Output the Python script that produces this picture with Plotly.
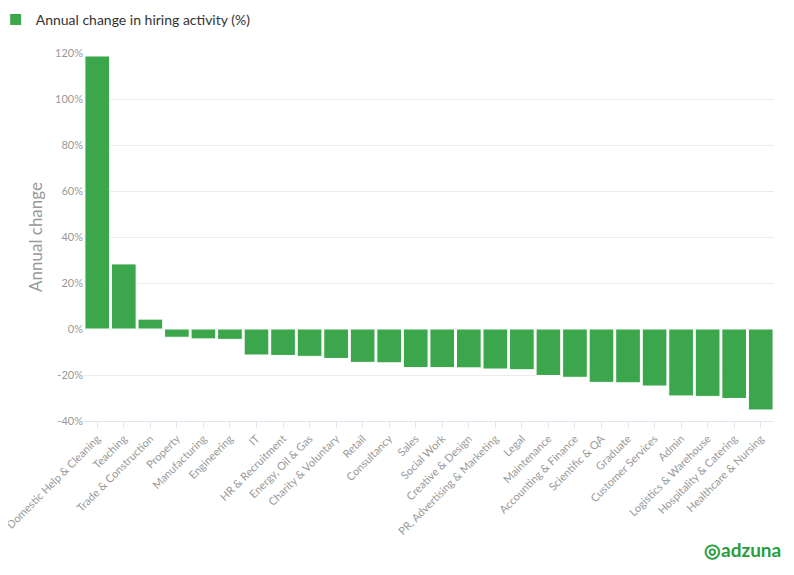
import plotly.graph_objects as go

# Hiring activity categories and annual change (%)
categories = [
    "Domestic Help & Cleaning", "Teaching", "Trade & Construction", "Property",
    "Manufacturing", "Engineering", "IT", "HR & Recruitment", "Energy, Oil & Gas",
    "Charity & Voluntary", "Retail", "Consultancy", "Sales", "Social Work",
    "Creative & Design", "PR, Advertising & Marketing", "Legal", "Maintenance",
    "Accounting & Finance", "Scientific & QA", "Graduate", "Customer Services",
    "Admin", "Logistics & Warehouse", "Hospitality & Catering", "Healthcare & Nursing",
]
annual_change = [
    118.7, 28.3, 4.3, -3.6, -4.3, -4.5, -11.3, -11.5, -11.9, -12.8, -14.5, -14.7,
    -16.8, -16.8, -16.9, -17.4, -17.7, -20.2, -21.0, -23.2, -23.4, -24.8,
    -29.1, -29.3, -30.2, -35.2,
]
y_ticks = [-40, -20, 0, 20, 40, 60, 80, 100, 120]
y_labels = [f"{v}%" for v in y_ticks]

GREEN = "#3ca64c"
GREY = "#999999"

fig = go.Figure(go.Bar(
    x=categories,
    y=annual_change,
    name="Annual change in hiring activity (%)",
    marker=dict(color=GREEN, line=dict(color="white", width=1)),
    showlegend=True,
))

fig.update_layout(
    width=794, height=575,
    margin=dict(l=76, r=28, t=45, b=162, autoexpand=False),
    paper_bgcolor="white", plot_bgcolor="white",
    font=dict(family="Lato, Open Sans, sans-serif", color="#333333"),
    bargap=0.07,
    legend=dict(
        x=-0.128, y=1.09, xanchor="left", yanchor="middle", orientation="h",
        font=dict(size=14, color="#333333"),
    ),
    xaxis=dict(
        tickangle=-45, tickfont=dict(size=11, color=GREY),
        ticks="outside", ticklen=6, tickcolor="#e0e6f0",
        showline=True, linecolor="#e0e6f0", showgrid=False,
        automargin=False,
    ),
    yaxis=dict(
        range=[-40, 120], tickvals=y_ticks, ticktext=y_labels,
        tickfont=dict(size=11, color=GREY),
        gridcolor="#ececec", zeroline=False,
        title=dict(text="Annual change", font=dict(size=17, color=GREY), standoff=8),
        automargin=False,
    ),
)

# adzuna logo text
fig.add_annotation(
    text="<b>◎adzuna</b>", xref="paper", yref="paper",
    x=1.013, y=-0.35, xanchor="right", yanchor="middle", showarrow=False,
    font=dict(size=19, color="#2a9d3c"),
)

fig.write_html("out.html")
